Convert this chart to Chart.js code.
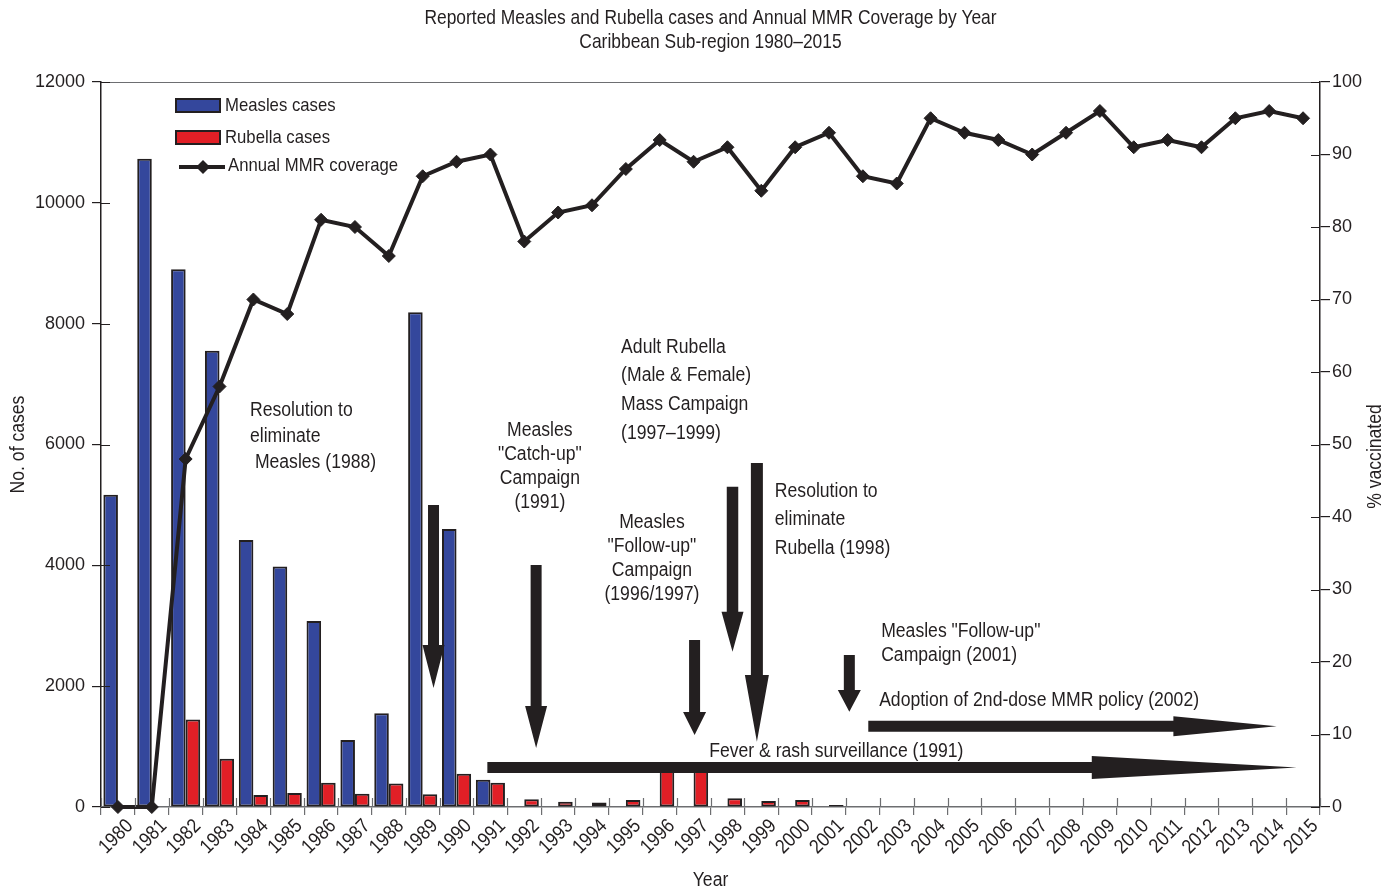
<!DOCTYPE html>
<html>
<head>
<meta charset="utf-8">
<title>Measles and Rubella cases, Caribbean 1980–2015</title>
<script src="https://cdn.jsdelivr.net/npm/chart.js@4.4.0/dist/chart.umd.min.js"></script>
<style>
  html, body { margin: 0; padding: 0; background: #fff; }
  #wrap { width: 1392px; height: 890px; }
</style>
</head>
<body>
<div id="wrap"><canvas id="mmrChart"></canvas></div>
<script>
const years = ['1980', '1981', '1982', '1983', '1984', '1985', '1986', '1987', '1988', '1989',
  '1990', '1991', '1992', '1993', '1994', '1995', '1996', '1997', '1998', '1999',
  '2000', '2001', '2002', '2003', '2004', '2005', '2006', '2007', '2008', '2009',
  '2010', '2011', '2012', '2013', '2014', '2015'];

const measlesCases = [5170, 10730, 8900, 7550, 4420, 3980, 3080, 1110, 1550, 8190,
  4600, 450, 0, 0, 0, 0, 0, 10, 10, 0,
  0, 0, 0, 0, 0, 0, 0, 0, 0, 0,
  0, 0, 0, 0, 0, 0];

const rubellaCases = [0, 0, 1450, 800, 200, 230, 400, 220, 390, 210,
  550, 400, 130, 85, 75, 115, 620, 620, 145, 100,
  115, 35, 0, 0, 0, 0, 0, 0, 0, 0,
  0, 0, 0, 0, 0, 0];

const mmrCoverage = [0, 0, 48, 58, 70, 68, 81, 80, 76, 87,
  89, 90, 78, 82, 83, 88, 92, 89, 91, 85,
  91, 93, 87, 86, 95, 93, 92, 90, 93, 96,
  91, 92, 91, 95, 96, 95];

const caseTicks = [0, 2000, 4000, 6000, 8000, 10000, 12000];
const coverageTicks = [0, 10, 20, 30, 40, 50, 60, 70, 80, 90, 100];

// notes: x = category index (may be fractional), y = No. of cases
const notes = [
  { x: 3.90, y: 6571, align: 'left', gap: 26, lines: ['Resolution to', 'eliminate', ' Measles (1988)'] },
  { x: 12.46, y: 6240, align: 'center', gap: 24, lines: ['Measles', '"Catch-up"', 'Campaign', '(1991)'] },
  { x: 14.86, y: 7614, align: 'left', gap: 28.7, lines: ['Adult Rubella', '(Male & Female)', 'Mass Campaign', '(1997–1999)'] },
  { x: 15.77, y: 4717, align: 'center', gap: 24, lines: ['Measles', '"Follow-up"', 'Campaign', '(1996/1997)'] },
  { x: 19.40, y: 5230, align: 'left', gap: 28.5, lines: ['Resolution to', 'eliminate', 'Rubella (1998)'] },
  { x: 22.54, y: 2897, align: 'left', gap: 24, lines: ['Measles "Follow-up"', 'Campaign (2001)'] },
  { x: 22.48, y: 1755, align: 'left', gap: 24, lines: ['Adoption of 2nd-dose MMR policy (2002)'] },
  { x: 17.46, y: 927, align: 'left', gap: 24, lines: ['Fever & rash surveillance (1991)'] }
];

const downArrows = [
  { x: 9.32, top: 5000, head: 2680, tip: 1970, shaft: 11, headW: 22 },
  { x: 12.35, top: 4006, head: 1672, tip: 977, shaft: 11, headW: 22 },
  { x: 17.03, top: 2764, head: 1572, tip: 1192, shaft: 11, headW: 23 },
  { x: 18.15, top: 5302, head: 3233, tip: 2570, shaft: 11.5, headW: 22 },
  { x: 18.87, top: 5694, head: 2185, tip: 1081, shaft: 12, headW: 24 },
  { x: 21.6, top: 2516, head: 1937, tip: 1578, shaft: 11, headW: 23 }
];

const rightArrows = [
  { y: 654, start: 10.91, head: 28.76, tip: 34.81, shaft: 11, headH: 23 },
  { y: 1336, start: 22.16, head: 31.17, tip: 34.22, shaft: 11, headH: 20 }
];

const ink = '#231f20';
const blue = '#34479c';
const red = '#e11f26';

function label(ctx, s, x, y, align, size, rot) {
  ctx.save();
  ctx.translate(x, y);
  if (rot) ctx.rotate(rot);
  ctx.scale(0.88, 1);
  ctx.font = size + 'px "Liberation Sans", Arial, sans-serif';
  ctx.fillStyle = ink;
  ctx.textAlign = align;
  ctx.textBaseline = 'middle';
  ctx.fillText(s, 0, 0);
  ctx.restore();
}

const extras = {
  id: 'extras',
  beforeDraw(chart) {
    const ctx = chart.ctx;
    ctx.save();
    ctx.fillStyle = '#fff';
    ctx.fillRect(0, 0, chart.width, chart.height);
    ctx.restore();
  },
  afterDatasetsDraw(chart) {
    const ctx = chart.ctx;
    const xs = chart.scales.x, ys = chart.scales.y;
    ctx.save();
    ctx.fillStyle = ink;
    downArrows.forEach(a => {
      const cx = xs.getPixelForValue(a.x);
      const t = ys.getPixelForValue(a.top), h = ys.getPixelForValue(a.head), p = ys.getPixelForValue(a.tip);
      ctx.beginPath();
      ctx.moveTo(cx - a.shaft / 2, t);
      ctx.lineTo(cx + a.shaft / 2, t);
      ctx.lineTo(cx + a.shaft / 2, h);
      ctx.lineTo(cx + a.headW / 2, h);
      ctx.lineTo(cx, p);
      ctx.lineTo(cx - a.headW / 2, h);
      ctx.lineTo(cx - a.shaft / 2, h);
      ctx.closePath();
      ctx.fill();
    });
    rightArrows.forEach(a => {
      const cy = ys.getPixelForValue(a.y);
      const s = xs.getPixelForValue(a.start), h = xs.getPixelForValue(a.head), p = xs.getPixelForValue(a.tip);
      ctx.beginPath();
      ctx.moveTo(s, cy - a.shaft / 2);
      ctx.lineTo(h, cy - a.shaft / 2);
      ctx.lineTo(h, cy - a.headH / 2);
      ctx.lineTo(p, cy);
      ctx.lineTo(h, cy + a.headH / 2);
      ctx.lineTo(h, cy + a.shaft / 2);
      ctx.lineTo(s, cy + a.shaft / 2);
      ctx.closePath();
      ctx.fill();
    });
    ctx.restore();

    notes.forEach(n => {
      const x = xs.getPixelForValue(n.x), y = ys.getPixelForValue(n.y);
      n.lines.forEach((line, i) => label(ctx, line, x, y + i * n.gap, n.align, 20));
    });
  },
  afterDraw(chart) {
    const ctx = chart.ctx;
    const area = chart.chartArea;
    const xs = chart.scales.x, ys = chart.scales.y, y1 = chart.scales.y1;

    // top frame line
    ctx.save();
    ctx.strokeStyle = '#6d6e71';
    ctx.lineWidth = 1.2;
    ctx.beginPath();
    ctx.moveTo(area.left, area.top + 0.5);
    ctx.lineTo(area.right, area.top + 0.5);
    ctx.stroke();

    // inner halves of the tick marks
    ctx.strokeStyle = ink;
    ctx.lineWidth = 1.2;
    ctx.beginPath();
    caseTicks.forEach(v => {
      const y = Math.round(ys.getPixelForValue(v)) + 0.5;
      ctx.moveTo(area.left, y); ctx.lineTo(area.left + 9, y);
    });
    coverageTicks.forEach(v => {
      const y = Math.round(y1.getPixelForValue(v)) + 0.5;
      ctx.moveTo(area.right - 9, y); ctx.lineTo(area.right, y);
    });
    ctx.stroke();
    ctx.strokeStyle = '#6d6e71';
    ctx.beginPath();
    for (let i = 0; i <= years.length; i++) {
      const x = Math.round(xs.getPixelForValue(i - 0.5)) + 0.5;
      ctx.moveTo(x, area.bottom - 9); ctx.lineTo(x, area.bottom);
    }
    ctx.stroke();
    ctx.restore();

    // year labels
    years.forEach((yr, i) => {
      const cx = xs.getPixelForValue(i);
      label(ctx, yr, cx + 12, area.bottom + 16, 'right', 20, -Math.PI / 4);
    });

    // titles
    const mid = (area.left + area.right) / 2;
    label(ctx, 'Reported Measles and Rubella cases and Annual MMR Coverage by Year', mid, 19, 'center', 19.8);
    label(ctx, 'Caribbean Sub-region 1980–2015', mid, 43, 'center', 19.8);
    label(ctx, 'Year', mid, 880, 'center', 20);
    const vmid = (area.top + area.bottom) / 2;
    label(ctx, 'No. of cases', 18, vmid, 'center', 20, -Math.PI / 2);
    label(ctx, '% vaccinated', 1375, vmid + 12, 'center', 20, -Math.PI / 2);

    // legend
    const lx = area.left + 75, ly = area.top + 17;
    ctx.save();
    ctx.lineWidth = 2;
    ctx.strokeStyle = ink;
    ctx.fillStyle = blue;
    ctx.fillRect(lx, ly, 44, 13);
    ctx.strokeRect(lx, ly, 44, 13);
    ctx.fillStyle = red;
    ctx.fillRect(lx, ly + 32, 44, 13);
    ctx.strokeRect(lx, ly + 32, 44, 13);
    ctx.lineWidth = 4;
    ctx.beginPath();
    ctx.moveTo(lx + 3, ly + 68);
    ctx.lineTo(lx + 49, ly + 68);
    ctx.stroke();
    ctx.fillStyle = ink;
    ctx.beginPath();
    ctx.moveTo(lx + 27, ly + 61);
    ctx.lineTo(lx + 34, ly + 68);
    ctx.lineTo(lx + 27, ly + 75);
    ctx.lineTo(lx + 20, ly + 68);
    ctx.closePath();
    ctx.fill();
    ctx.restore();
    label(ctx, 'Measles cases', lx + 49, ly + 7, 'left', 19);
    label(ctx, 'Rubella cases', lx + 49, ly + 39, 'left', 19);
    label(ctx, 'Annual MMR coverage', lx + 52, ly + 67, 'left', 19);
  }
};

const tickFont = { family: '"Liberation Sans", Arial, sans-serif', size: 18 };

new Chart(document.getElementById('mmrChart'), {
  type: 'bar',
  data: {
    labels: years,
    datasets: [
      {
        type: 'line',
        label: 'Annual MMR coverage',
        data: mmrCoverage,
        yAxisID: 'y1',
        borderColor: ink,
        borderWidth: 4,
        pointStyle: 'rectRot',
        pointRadius: 6.5,
        pointBackgroundColor: ink,
        pointBorderColor: ink,
        pointBorderWidth: 1,
        tension: 0,
        clip: false
      },
      {
        label: 'Measles cases',
        data: measlesCases,
        yAxisID: 'y',
        backgroundColor: blue,
        borderColor: ink,
        borderWidth: 2,
        borderSkipped: false,
        categoryPercentage: 0.86,
        barPercentage: 1
      },
      {
        label: 'Rubella cases',
        data: rubellaCases,
        yAxisID: 'y',
        backgroundColor: red,
        borderColor: ink,
        borderWidth: 2,
        borderSkipped: false,
        categoryPercentage: 0.86,
        barPercentage: 1
      }
    ]
  },
  options: {
    responsive: true,
    maintainAspectRatio: false,
    animation: false,
    layout: { padding: { top: 82, left: 0, right: 0, bottom: 0 } },
    plugins: {
      legend: { display: false },
      tooltip: { enabled: false }
    },
    scales: {
      x: {
        offset: true,
        grid: { offset: true, drawOnChartArea: false, drawTicks: true, tickLength: 8, color: '#6d6e71', lineWidth: 1.2 },
        border: { color: '#6d6e71', width: 1.5 },
        ticks: { display: false },
        afterFit(scale) { scale.height = 83; }
      },
      y: {
        position: 'left',
        min: 0,
        max: 12000,
        afterBuildTicks(scale) { scale.ticks = caseTicks.map(v => ({ value: v })); },
        grid: { drawOnChartArea: false, tickLength: 9, color: ink, lineWidth: 1.2 },
        border: { color: ink, width: 1.5 },
        ticks: { font: tickFont, color: ink, padding: 7, callback: v => String(v) },
        afterFit(scale) { scale.width = 101; }
      },
      y1: {
        position: 'right',
        min: 0,
        max: 100,
        afterBuildTicks(scale) { scale.ticks = coverageTicks.map(v => ({ value: v })); },
        grid: { drawOnChartArea: false, tickLength: 10, color: ink, lineWidth: 1.2 },
        border: { color: ink, width: 1.5 },
        ticks: { font: tickFont, color: ink, padding: 2, callback: v => String(v) },
        afterFit(scale) { scale.width = 72; }
      }
    }
  },
  plugins: [extras]
});
</script>
</body>
</html>
